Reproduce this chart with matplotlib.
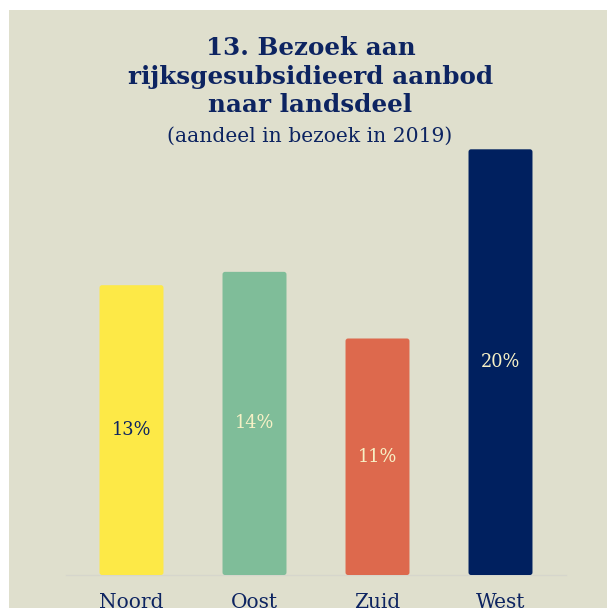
import matplotlib
matplotlib.use("Agg")
import matplotlib.pyplot as plt
from matplotlib.patches import FancyBboxPatch, Rectangle

# Data
categories = ["Noord", "Oost", "Zuid", "West"]
values = [13.48, 14.1, 11.0, 19.8]
value_labels = ["13%", "14%", "11%", "20%"]
bar_colors = ["#fde947", "#7fbd99", "#dd694d", "#00205f"]
label_colors = ["#0d2461", "#f7f1c6", "#f7f1c6", "#f7f1c6"]

title_lines = "13. Bezoek aan\nrijksgesubsidieerd aanbod\nnaar landsdeel"
subtitle = "(aandeel in bezoek in 2019)"

BG = "#dfdfcd"
NAVY = "#0d2461"
FONT = "DejaVu Serif"

W, H = 607, 608
fig = plt.figure(figsize=(W / 100, H / 100), dpi=100)
fig.patch.set_facecolor("white")
fig.patches.append(Rectangle((9 / W, 0), 1, (H - 10) / H, transform=fig.transFigure,
                             facecolor=BG, edgecolor="none", zorder=-5))

ax = fig.add_axes([70 / W, 33 / H, 492 / W, 430 / H])
ax.set_zorder(2)
ax.set_facecolor("none")
ax.set_xlim(-0.5, len(categories) - 0.5)
ax.set_ylim(0, 20)

x = range(len(categories))
bars = ax.bar(x, values, width=0.52, color=bar_colors)
for b, c in zip(bars, bar_colors):
    b.set_visible(False)
    p = FancyBboxPatch((b.get_x(), b.get_y()), b.get_width(), b.get_height(),
                       boxstyle="round,pad=0,rounding_size=0.02",
                       mutation_aspect=6.0, facecolor=c, edgecolor="none", zorder=3)
    ax.add_patch(p)

for xi, v, lab, lc in zip(x, values, value_labels, label_colors):
    ax.text(xi, v / 2, lab, ha="center", va="center", fontsize=12.8,
            family=FONT, color=lc, zorder=4)

for s in ["top", "right", "left"]:
    ax.spines[s].set_visible(False)
ax.spines["bottom"].set_color("#d6d6cc")
ax.spines["bottom"].set_linewidth(1)
ax.spines["bottom"].set_bounds(-0.53, 3.53)
ax.set_yticks([])
ax.set_xticks(list(x))
ax.set_xticklabels(categories, family=FONT, fontsize=14.5, color=NAVY)
ax.tick_params(axis="x", length=0, pad=13)

fig.text(0.5 + 7 / W, 1 - 36 / H, title_lines, ha="center", va="top", fontsize=17.7,
         fontweight="bold", family=FONT, color=NAVY, linespacing=1.24)
fig.text(0.5 + 6 / W, 1 - 142 / H, subtitle, ha="center", va="baseline", fontsize=14.6,
         family=FONT, color=NAVY)

fig.savefig("out.png", dpi=100, facecolor=fig.get_facecolor())
